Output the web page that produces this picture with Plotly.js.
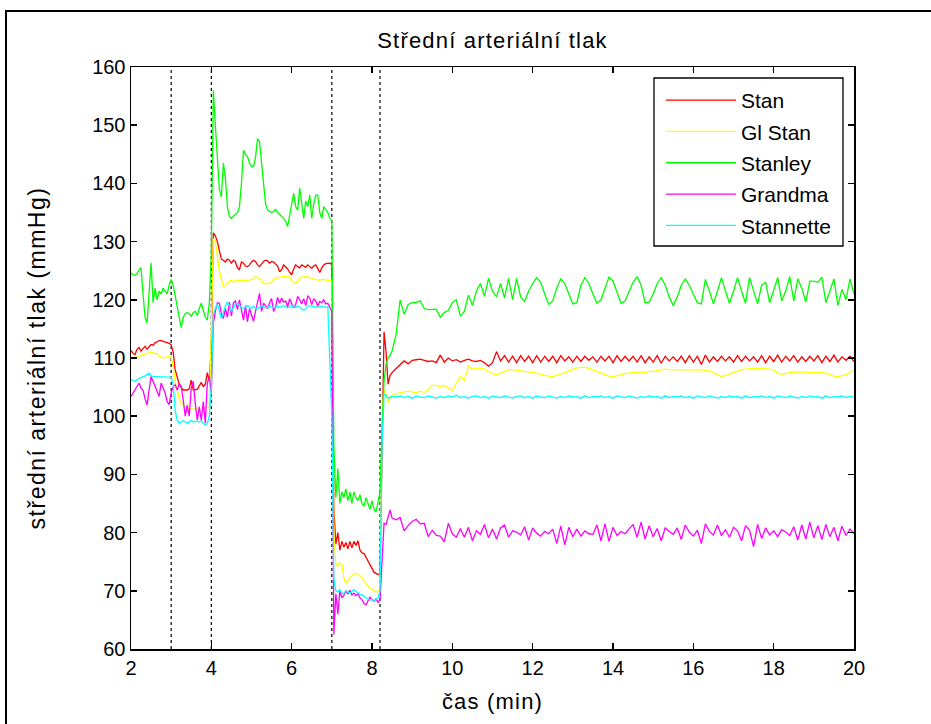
<!DOCTYPE html>
<html>
<head>
<meta charset="utf-8">
<script src="https://cdn.plot.ly/plotly-3.0.1.min.js"></script>
<style>
html, body { margin:0; padding:0; background:#fff; overflow:hidden; }
#wrap { position:relative; width:931px; height:724px; overflow:hidden; background:#fff; }
#frame { position:absolute; left:5px; top:10px; width:1000px; height:1000px; border:2px solid #000; box-sizing:border-box; pointer-events:none; z-index:5; }
#chart { position:absolute; left:0; top:0; width:931px; height:724px; }
text.gtitle { letter-spacing: 1.2px; }
text.xtitle { letter-spacing: 1.2px; }
text.ytitle { letter-spacing: 1.5px; }
</style>
</head>
<body>
<div id="wrap"><div id="chart"></div><div id="frame"></div></div>
<script>
// sampling: fine grid 2.00..8.50 step 0.05 (131 pts), coarse grid 8.6..20.0 step 0.1 (115 pts)
const fineStart = 2.0, fineStep = 0.05;
const coarseStart = 8.6, coarseStep = 0.1;

const seriesNames = ["Stan", "Gl Stan", "Stanley", "Grandma", "Stannette"];
const seriesColors = ["#ff0000", "#ffff00", "#00ff00", "#ff00ff", "#00ffff"];
const eventTimes = [3, 4, 7, 8.2];
const xTicks = [2, 4, 6, 8, 10, 12, 14, 16, 18, 20];
const yTicks = [60, 70, 80, 90, 100, 110, 120, 130, 140, 150, 160];

const stanFine = [
111.3,110.8,110.6,111.5,111.8,111.2,111.6,112,111.5,111.9,112.3,112.2,112.6,112.8,113,113,112.9,112.8,112.7,112.5,112.3,
111,108,106.5,105.5,105,104.5,104.5,104.5,104.7,106.2,104.5,104.6,104.6,105.2,105.8,105.1,105.5,107.5,106,
112,131.5,131,130,128.5,127,126.8,126.5,127,126.8,
126.3,126.8,126.5,125.5,125.2,126.5,126.3,125.8,125.7,126,
126.5,126.8,126.6,126,125.7,126.2,126.6,126.8,126.7,126.3,
126.6,126.5,126.2,125.8,124.8,125.2,126,125.6,125.3,124.7,
124.3,125.3,126,125.7,125.5,126,125.8,125.6,126,125.7,
125.4,125.8,126,125.4,124.7,125.5,126,126.2,126.3,126.3,
126,
84,78,80,77,78.5,77.5,78.3,77.2,78.5,77.4,78.5,77.8,78.6,77,76.5,76.4,75.8,75.2,74.5,74,73.2,73,72.8,73,
98,114.5,111,105.5,107,107.5];
const stanCoarse = [
108.2,108.8,109.5,109,109.6,109.7,109.8,109.6,109.4,109.5,
109.2,110.5,109.3,110,109.5,109.7,109.3,109.6,109.8,109.5,
109.4,109.6,109.2,108.6,109.2,111.1,109.5,110.4,109.3,110.3,
109.2,110.4,109.4,110.3,109.2,110.4,109.3,110.3,109.4,110.3,
109.2,110.4,109.5,110.2,109.3,110.3,109.4,110.3,109.6,110.2,
109.3,110.3,109.5,110.3,109.2,110.4,109.4,110.3,109.5,110.3,
109.3,110.4,109.2,110.2,109.3,110.4,109.1,110.3,109.5,110.2,
109.4,110.3,109.2,110.4,109.3,110.3,108.9,110.5,109.3,110.2,
109.4,110.3,109.5,110.2,109.3,110.4,109.4,110.3,109.5,110.2,
109.3,110.4,109.2,110.3,109.4,110.5,109.3,110.3,109.5,110.4,
109.3,110.2,109.4,110.3,109.5,110.4,109.2,110.3,109.4,110.5,
109.3,110.2,109.6,110.3,109.4];

const glStanFine = [
110,109.8,109.9,110.2,110.3,110.5,110.6,110.7,110.8,110.9,111,110.9,110.8,110.7,110.3,110.1,110,110.1,110.2,110.3,110.1,
108.5,106,104.5,103,102.3,101.8,101.5,101.4,101.3,101.2,101.2,101.2,101.3,101.2,101.1,101.2,101.5,101.4,101.6,
115,130.5,130,127.5,125,123.5,122.3,122.5,122.8,123.2,
123.4,123,123.3,123.2,123.4,123.3,123.4,123.4,123.3,123.4,
123.4,123.6,124,123.8,123.6,123.4,122.8,122.8,122.9,122.8,
123,123.5,123.7,123.8,123.9,124,124,124,124,123.8,
123.4,122.9,122.8,123.3,123.7,123.9,124,124,123.9,123.8,
123.6,123.5,123.4,123.4,123.4,123.5,123.5,123.4,123.4,123.4,
123.3,
80,74.5,74.2,74.8,74.6,72.2,71.3,71.8,72.3,72.6,72.9,73,72.8,72.5,72.2,71.7,71.2,70.8,70.4,70.2,70,69.8,69.9,70.5,
100,104.5,103.8,102.2,103.2,103.6];
const glStanCoarse = [
103.9,104,104.2,104.3,104.2,104,104.3,104.1,104.5,105.3,
105.3,105.1,105.3,104.8,104.4,105.7,106.8,106.2,108.6,108.1,
108.2,108.3,108.1,107.7,107.3,107.1,107.4,107.8,108,108,
107.9,107.9,107.8,107.7,107.6,107.4,107.2,107,106.9,106.8,
107,107.2,107.5,107.8,108.1,108.3,108.4,108.4,108.2,108,
107.7,107.4,107.1,106.9,106.8,107,107.2,107.3,107.4,107.5,
107.6,107.6,107.5,107.7,107.7,107.8,107.9,108.1,108,108,
108,108,108,108,108,108,108,107.9,107.8,107.5,
107.1,106.8,107,107.3,107.5,107.7,108,108.1,108.2,108.2,
108.2,108.2,108.2,108.1,107.9,107.4,107.2,107.4,107.5,107.6,
107.6,107.6,107.6,107.6,107.6,107.6,107.5,107.4,107.1,106.9,
106.8,107,107.1,107.5,107.9];

const stanleyFine = [
124.6,124.3,124.2,124.5,125.1,125.5,121,117,116,122,126.3,119.5,122,120,121.5,121,122,121.5,121,122.5,123.5,
122.5,120.5,119,116.5,115.2,117,117.6,117.8,117.6,117.2,117.8,118,117.3,118.5,119.4,118.2,117,116.5,119.5,
128,156,150,144,139,137.7,143.5,141,136,134.3,
134,134.3,134.6,135,136,140,145.7,145,144.6,143.5,
142.9,142.9,144.5,147.7,147.2,143,140,136.5,135.4,135.2,
135,135.2,135.5,135,134.6,134.3,134,133.5,132.6,134.5,
137.1,138.3,136,135.4,139.2,137,134,137,136,138,
134,136.5,138,138,135,134,136,135.5,135,134,
133.5,
95,86,91,85,87,86,87.5,85.5,87,85,87,86,85.5,86.5,85,84.5,86,85,84,85.5,84,83.5,85,87,
98,106,109,110,110.5,111.2];
const stanleyCoarse = [
114,120,117.5,119.2,119.5,119.5,119.8,118.5,118.3,118.3,
118.4,117,117.8,118.2,119.5,120,117.2,118,120.8,119,
121.5,122.8,120.6,123.7,121.5,120.5,122.8,120.3,123.7,120,
123.7,120.5,119.7,121.5,122.8,123.8,123,121,119.2,119.8,
122,123.6,122.8,121,119.3,119.5,122.5,123.8,122.8,121,
119.4,120,122,123.9,123.2,121.3,119.4,119.8,121.5,123,
124,122.5,119.5,119.6,121,122.8,123.8,122.5,120.5,119,
120.5,122.5,123.6,122.5,121,119.5,119.3,123.5,121.5,119.3,
121.5,123.8,121.5,119.4,121.5,123.8,121.5,119.4,123.8,121.5,
119.3,122.5,123,119.5,121.5,123.8,119.8,121.5,124,119.8,
123.6,122,119.6,123.2,123.2,123,123.9,119.5,121.5,123.6,
119,121.8,120,123.6,121];

const grandmaFine = [
103.4,104,104.6,105.2,105.7,104.8,104.5,103,101.9,104.5,106.8,106,105.1,104.2,103.4,105.7,104.8,104,102.5,102,104,
105.1,105.4,104.5,105.6,105.1,102.8,100,101.9,100,104.8,106,102.2,99.3,101.6,99.3,102.5,98.8,105.7,106.8,
104,116,118,119.5,119.4,117.5,116.8,118.5,117,119.6,
117.2,119.5,119.8,118.3,120,118,116.5,119,116.2,118.5,
117.5,116.3,118,119.6,121.1,118,119.4,119,118.5,119.5,
120.2,118,118.8,120.4,119.4,120.3,119.6,119.8,118.8,120.2,
119.5,118.6,119.2,120.6,120,119.3,120.2,119,120.6,120.3,
119.2,120.2,119.8,118.9,119.7,119.5,120,119.3,119.4,118.6,
118,
62.5,69.5,66,70,68.8,69.2,70,69.5,70.1,69.3,69.6,69.2,69.5,68.8,68.5,67.8,67.6,68.4,68.9,68.5,68.2,68.6,68,68.5,
75,81.6,81.4,82.6,83.9,82.5];
const grandmaCoarse = [
82.2,82.6,80.3,81.2,81.9,82.3,81.5,81.6,79.3,80.4,
79.5,79.4,78.4,81.6,79.8,79.2,80.7,79.2,80.9,78.6,
80.3,79.7,81.4,79.1,80.6,78.9,80.8,81.3,79.2,80.3,
80.1,79.6,81,78.7,80.8,79.9,79.4,80.2,79.8,80.6,
78.1,81.1,77.9,80.9,79.3,80.6,79.4,80.3,79.8,79.7,
81.3,78.6,81.5,78.5,80.9,79.5,80.2,79.8,80.6,81.4,
79.2,81.8,78.9,81.2,79.3,80.7,78.6,80.8,80.2,79.7,
80.8,78.8,81.3,80.1,79.4,80.4,78.1,81.5,80.2,79.6,
81.3,79.5,80.5,79.2,80.9,80.3,78.6,81.2,80.4,77.6,
81.4,79,80.8,79.6,80.3,79.3,80.5,80.1,79.5,81,
78.7,81.3,78.9,81.8,79.1,81.2,78.8,81.4,79.3,80.9,
78.6,81.1,79.5,80.6,79.8];

const stannetteFine = [
106.3,106.2,106,106.3,106.5,106.6,106.8,106.9,107.1,107.4,107,106.8,106.8,106.8,106.8,106.8,106.8,106.8,106.8,106.8,106.7,
105.5,101,99.3,98.8,99,99.2,99,98.8,99,99.3,99,99.1,99.2,99,99.2,98.8,98.5,98.8,100,
105,117.5,118.5,119.3,118,116.8,117.8,119,119.6,119,
118,118.8,119.3,119.4,119,118.7,118.5,118.8,119,118.8,
118.5,118.9,118.6,118.5,118.7,118.9,118.8,118.6,118.7,118.9,
118.8,118.6,118.8,118.9,118.7,118.8,119,118.8,118.6,118.8,
119,118.8,118.7,118.9,118.8,118.4,118.2,118.5,118.9,119,
118.9,118.9,118.8,118.7,118.8,118.9,118.8,118.7,118.8,110,
100,
72,70,69.8,70.2,69.5,69.6,70,69.8,69.6,69.9,70.2,69.9,69.6,69.4,69.3,69,68.8,68.6,68.4,68.5,68.3,68.5,68.8,70,
95,103.8,103.6,103.1,103.3,103.4];
const stannetteCoarse = [
103.3,103.5,103.2,103.4,103.1,103.5,103.3,103.2,103.5,103.3,
103.1,103.4,103.2,103.5,103.3,103.6,103.2,103.4,103.1,103.4,
103.5,103.2,103.4,103.1,103.5,103.3,103.2,103.5,103.3,103.1,
103.4,103.5,103.2,103.4,103.1,103.5,103.3,103.2,103.5,103.3,
103.1,103.4,103.2,103.5,103.3,103.4,103.1,103.5,103.2,103.4,
103.3,103.5,103.2,103.4,103.1,103.5,103.3,103.2,103.5,103.3,
103.1,103.4,103.2,103.5,103.3,103.4,103.1,103.5,103.2,103.4,
103.3,103.5,103.2,103.4,103.1,103.5,103.3,103.2,103.5,103.3,
103.1,103.4,103.2,103.5,103.3,103.4,103.1,103.5,103.2,103.4,
103.3,103.5,103.2,103.4,103.1,103.5,103.3,103.2,103.5,103.3,
103.1,103.4,103.2,103.5,103.3,103.4,103.1,103.5,103.2,103.4,
103.3,103.5,103.2,103.4,103.3];

function timesFor(n, start, step) {
  const t = [];
  for (let i = 0; i < n; i++) t.push(+(start + step * i).toFixed(3));
  return t;
}
function join(fine, coarse) {
  return {
    x: timesFor(fine.length, fineStart, fineStep).concat(timesFor(coarse.length, coarseStart, coarseStep)),
    y: fine.concat(coarse)
  };
}

const seriesData = [
  join(stanFine, stanCoarse),
  join(glStanFine, glStanCoarse),
  join(stanleyFine, stanleyCoarse),
  join(grandmaFine, grandmaCoarse),
  join(stannetteFine, stannetteCoarse)
];

const FONT = "'Liberation Sans', Arial, Helvetica, sans-serif";

const traces = seriesData.map((d, i) => ({
  type: 'scatter', mode: 'lines',
  x: d.x, y: d.y,
  name: seriesNames[i],
  legendgroup: 'g' + i,
  line: { color: seriesColors[i], width: 1.3 },
  hoverinfo: 'skip'
}));

// plot area in pixels: left 131, right 854, top 67, bottom 649
const PW = 723, PH = 582;
const shapes = eventTimes.map(t => ({
  type: 'line', xref: 'x', yref: 'paper', x0: t, x1: t, y0: 0, y1: 1,
  line: { color: '#000', width: 1.2, dash: 'dot' }, layer: 'below'
}));
// legend frame
shapes.push({
  type: 'rect', xref: 'paper', yref: 'paper',
  x0: (654 - 131) / PW, x1: (843 - 131) / PW,
  y0: (649 - 246) / PH, y1: (649 - 78) / PH,
  line: { color: '#000', width: 1.3 }, fillcolor: '#fff', layer: 'below'
});

const axisCommon = {
  showline: true, linecolor: '#000', linewidth: 1.5, mirror: 'ticks',
  ticks: 'inside', ticklen: 6, tickwidth: 1.5, tickcolor: '#000',
  showgrid: false, zeroline: false,
  tickfont: { family: FONT, size: 20, color: '#000' }
};

const layout = {
  width: 931, height: 724,
  paper_bgcolor: '#fff', plot_bgcolor: '#fff',
  margin: { l: 131, r: 77, t: 67, b: 75 },
  showlegend: true,
  title: {
    text: 'Střední arteriální tlak',
    font: { family: FONT, size: 22, color: '#000' },
    x: 0.5, xref: 'paper', xanchor: 'center',
    y: 1 - 40 / 724, yref: 'container', yanchor: 'middle'
  },
  xaxis: Object.assign({}, axisCommon, {
    range: [2, 20], tickvals: xTicks, ticktext: xTicks.map(String),
    title: { text: 'čas (min)', font: { family: FONT, size: 22, color: '#000' }, standoff: 16 }
  }),
  yaxis: Object.assign({}, axisCommon, {
    range: [60, 160], tickvals: yTicks, ticktext: yTicks.map(String),
    title: { text: 'střední arteriální tlak (mmHg)', font: { family: FONT, size: 23, color: '#000' }, standoff: 40 }
  }),
  legend: {
    x: (661 - 131) / PW, y: (649 - 80) / PH, xanchor: 'left', yanchor: 'top',
    bgcolor: 'rgba(0,0,0,0)', borderwidth: 0,
    font: { family: FONT, size: 21, color: '#000' },
    itemwidth: 70, tracegroupgap: 1
  },
  shapes: shapes
};

Plotly.newPlot('chart', traces, layout, { staticPlot: true, displayModeBar: false });
</script>
</body>
</html>
